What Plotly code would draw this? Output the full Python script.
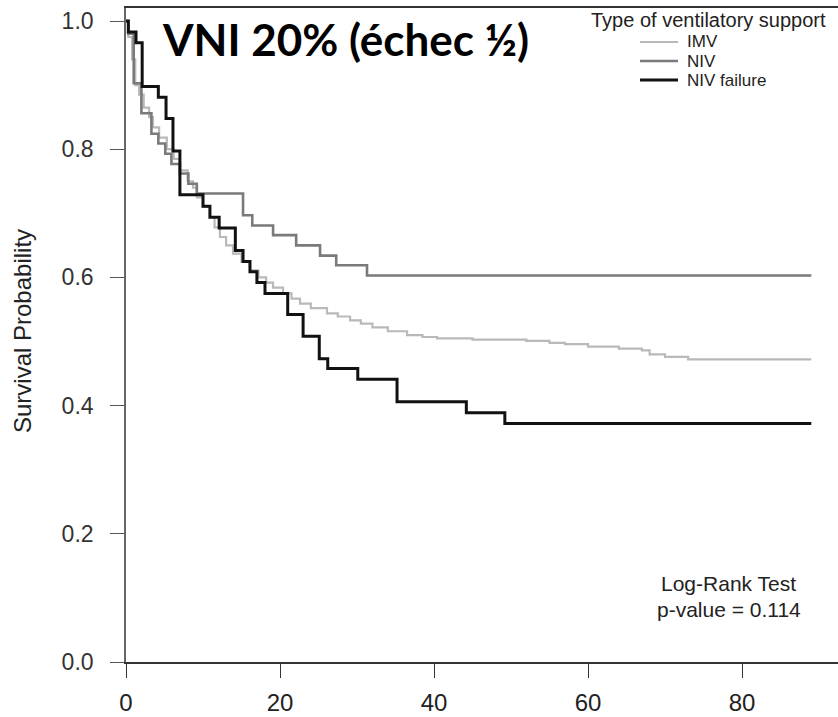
import plotly.graph_objects as go

# ---- data ----
imv_t = [0, 0.3, 0.8, 1.2, 1.7, 2.3, 3.0, 3.5, 4.3, 5.3, 6.2, 7.0, 8.0, 8.7, 9.2, 10.0,
         10.9, 11.5, 12.2, 13.0, 13.9, 15.0, 16.1, 17.2, 18.2, 19.1, 20.4, 21.5, 22.6,
         24.0, 26.1, 27.5, 29.1, 30.5, 32.0, 34.0, 36.5, 38.5, 40.4, 45.0, 52.0, 55.0,
         57.0, 60.0, 64.0, 67.0, 68.0, 70.0, 73.0, 89.0]
imv_s = [1.0, 0.975, 0.94, 0.90, 0.885, 0.865, 0.85, 0.834, 0.818, 0.80, 0.785, 0.767,
         0.75, 0.74, 0.725, 0.71, 0.694, 0.678, 0.663, 0.65, 0.637, 0.624, 0.611, 0.60,
         0.592, 0.584, 0.575, 0.567, 0.559, 0.552, 0.544, 0.539, 0.533, 0.528, 0.522,
         0.516, 0.51, 0.507, 0.505, 0.503, 0.501, 0.498, 0.496, 0.492, 0.489, 0.486,
         0.48, 0.476, 0.472, 0.472]

niv_t = [0, 0.3, 1.0, 2.0, 3.3, 4.2, 5.1, 5.9, 7.0, 8.1, 9.2, 15.2, 16.4, 19.1, 22.1,
         25.2, 27.3, 31.3, 89.0]
niv_s = [1.0, 0.98, 0.903, 0.856, 0.824, 0.809, 0.793, 0.777, 0.762, 0.746, 0.731,
         0.697, 0.681, 0.666, 0.650, 0.634, 0.619, 0.603, 0.603]

fail_t = [0, 0.3, 1.3, 2.1, 4.2, 5.2, 6.1, 7.0, 10.0, 10.9, 12.1, 14.2, 15.2, 16.1,
          17.0, 18.05, 21.0, 23.0, 25.1, 26.2, 30.1, 35.2, 44.2, 49.2, 89.0]
fail_s = [1.0, 0.983, 0.966, 0.898, 0.881, 0.848, 0.797, 0.729, 0.711, 0.694, 0.677,
          0.642, 0.625, 0.609, 0.592, 0.575, 0.542, 0.508, 0.473, 0.458, 0.441, 0.406,
          0.389, 0.372, 0.372]

group_names = ["IMV", "NIV", "NIV failure"]
legend_title = "Type of ventilatory support"
x_ticks = [0, 20, 40, 60, 80]
y_ticks = [0.0, 0.2, 0.4, 0.6, 0.8, 1.0]
y_tick_text = ["0.0", "0.2", "0.4", "0.6", "0.8", "1.0"]

FONT = "Liberation Sans, Arial, sans-serif"
colors = ["#b9b9b9", "#7a7a7a", "#111111"]
widths = [2.2, 2.6, 3.0]

fig = go.Figure()
for name, t, s, col, w in zip(group_names, [imv_t, niv_t, fail_t],
                              [imv_s, niv_s, fail_s], colors, widths):
    fig.add_trace(go.Scatter(x=t, y=s, mode="lines", name=name,
                             line=dict(shape="hv", color=col, width=w)))

W, H = 838, 717
ml, mr, mt, mb = 126, 0, 8, 55
pw, ph = W - ml - mr, H - mt - mb

fig.update_layout(
    width=W, height=H,
    margin=dict(l=ml, r=mr, t=mt, b=mb, pad=0),
    paper_bgcolor="white", plot_bgcolor="white",
    font=dict(family=FONT, size=20, color="#222"),
    showlegend=False,
    xaxis=dict(
        range=[0, pw / 7.7], showgrid=False, zeroline=False,
        showline=True, linecolor="#333", linewidth=1.6, mirror=True,
        ticks="outside", ticklen=14, tickwidth=1.4, tickcolor="#333",
        tickvals=x_ticks, ticktext=[str(v) for v in x_ticks],
        tickfont=dict(size=24, color="#222"), ticklabelstandoff=4,
    ),
    yaxis=dict(
        range=[0, ph / 641.0], showgrid=False, zeroline=False,
        showline=True, linecolor="#666", linewidth=1.6,
        ticks="outside", ticklen=14, tickwidth=1.4, tickcolor="#555",
        tickvals=y_ticks, ticktext=y_tick_text,
        tickfont=dict(size=23, color="#333"), ticklabelstandoff=12,
    ),
)

def px_x(px):
    return (px - ml) / pw

def px_y(py):
    return (H - mb - py) / ph

# manual legend (title, key lines and labels)
fig.add_annotation(text=legend_title, xref="paper", yref="paper",
                   x=px_x(708), y=px_y(20), xanchor="center", yanchor="middle",
                   showarrow=False, borderpad=0, font=dict(size=20, color="#222"))
row_y = [42, 61, 80]
for name, col, w, ry in zip(group_names, colors, widths, row_y):
    fig.add_shape(type="line", xref="paper", yref="paper",
                  x0=px_x(640), x1=px_x(678), y0=px_y(ry), y1=px_y(ry),
                  line=dict(color=col, width=w))
    fig.add_annotation(text=name, xref="paper", yref="paper",
                       x=px_x(686), y=px_y(ry), xanchor="left", yanchor="middle",
                       showarrow=False, borderpad=0, font=dict(size=17, color="#222"))

fig.add_annotation(text="<b>VNI 20% (échec ½)</b>", xref="paper", yref="paper",
                   x=px_x(160), y=px_y(39), xanchor="left", yanchor="middle",
                   showarrow=False, font=dict(family="Lato, Liberation Sans, sans-serif",
                                              size=44, color="black"))
fig.add_annotation(text="Survival Probability", xref="paper", yref="paper",
                   x=px_x(22), y=px_y(331), xanchor="center", yanchor="middle",
                   textangle=-90, showarrow=False, font=dict(size=24, color="#222"))
fig.add_annotation(text="Log-Rank Test", xref="paper", yref="paper",
                   x=px_x(728), y=px_y(583), xanchor="center", yanchor="middle",
                   showarrow=False, font=dict(size=21, color="#222"))
fig.add_annotation(text="p-value = 0.114", xref="paper", yref="paper",
                   x=px_x(729), y=px_y(609), xanchor="center", yanchor="middle",
                   showarrow=False, font=dict(size=21, color="#222"))

fig.write_html("out.html")
